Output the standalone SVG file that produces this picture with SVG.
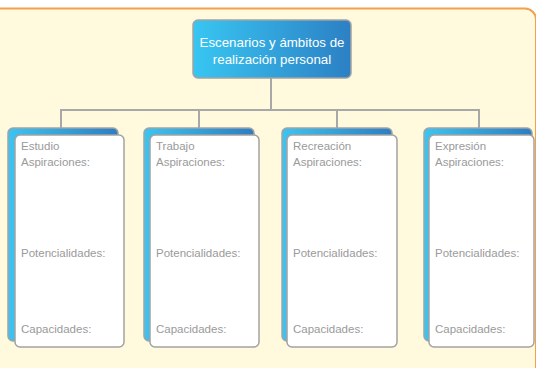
<svg xmlns="http://www.w3.org/2000/svg" width="536" height="368" viewBox="0 0 536 368">
<defs>
<linearGradient id="gHead" x1="0" y1="0" x2="1" y2="0">
<stop offset="0" stop-color="#38C6F2"/>
<stop offset="1" stop-color="#2C80C4"/>
</linearGradient>
<linearGradient id="gBack" x1="0" y1="0" x2="1" y2="0">
<stop offset="0" stop-color="#3CC4F1"/>
<stop offset="1" stop-color="#2D7EC3"/>
</linearGradient>
<style>
.back{fill:url(#gBack);stroke:#A2A2A2;stroke-width:1.5}
.front{fill:#FFFFFF;stroke:#A2A2A2;stroke-width:1.5}
.lbl{font-family:"Liberation Sans",Arial,sans-serif;font-size:11.5px;fill:#9A9A9A}
.head{font-family:"Liberation Sans",Arial,sans-serif;font-size:13.3px;fill:#FFFFFF;text-anchor:middle}
.conn{fill:none;stroke:#A8A8A8;stroke-width:2}
</style>
</defs>
<rect x="0" y="0" width="536" height="368" fill="#FFFFFF"/>
<path d="M-5 8.5 H525 A11 11 0 0 1 536 19.5 V372 H-5 Z" fill="#FFF9DD" stroke="#F4A04E" stroke-width="2"/>
<g id="connectors">
<path class="conn" d="M271 78 V110 M61 128 V110 H479 V128 M199 110 V128 M337 110 V128"/>
</g>
<g id="root">
<rect x="193" y="20" width="158" height="58" rx="5" fill="url(#gHead)" stroke="#A2A2A2" stroke-width="1.5"/>
<text class="head" x="272" y="47">Escenarios y ámbitos de</text>
<text class="head" x="272" y="64">realización personal</text>
</g>
<g id="estudio">
<rect class="back" x="8" y="128" width="110" height="213" rx="5"/>
<rect class="front" x="15" y="135" width="109" height="212" rx="5"/>
<text class="lbl" x="21" y="150">Estudio</text>
<text class="lbl" x="21" y="166">Aspiraciones:</text>
<text class="lbl" x="21" y="257">Potencialidades:</text>
<text class="lbl" x="21" y="333">Capacidades:</text>
</g>
<g id="trabajo">
<rect class="back" x="144" y="128" width="110" height="213" rx="5"/>
<rect class="front" x="150" y="135" width="109" height="212" rx="5"/>
<text class="lbl" x="156" y="150">Trabajo</text>
<text class="lbl" x="156" y="166">Aspiraciones:</text>
<text class="lbl" x="156" y="257">Potencialidades:</text>
<text class="lbl" x="156" y="333">Capacidades:</text>
</g>
<g id="recreacion">
<rect class="back" x="282" y="128" width="110" height="213" rx="5"/>
<rect class="front" x="287" y="135" width="110" height="212" rx="5"/>
<text class="lbl" x="293" y="150">Recreación</text>
<text class="lbl" x="293" y="166">Aspiraciones:</text>
<text class="lbl" x="293" y="257">Potencialidades:</text>
<text class="lbl" x="293" y="333">Capacidades:</text>
</g>
<g id="expresion">
<rect class="back" x="424" y="128" width="108" height="213" rx="5"/>
<rect class="front" x="429" y="135" width="105" height="212" rx="5"/>
<text class="lbl" x="435" y="150">Expresión</text>
<text class="lbl" x="435" y="166">Aspiraciones:</text>
<text class="lbl" x="435" y="257">Potencialidades:</text>
<text class="lbl" x="435" y="333">Capacidades:</text>
</g>
</svg>
